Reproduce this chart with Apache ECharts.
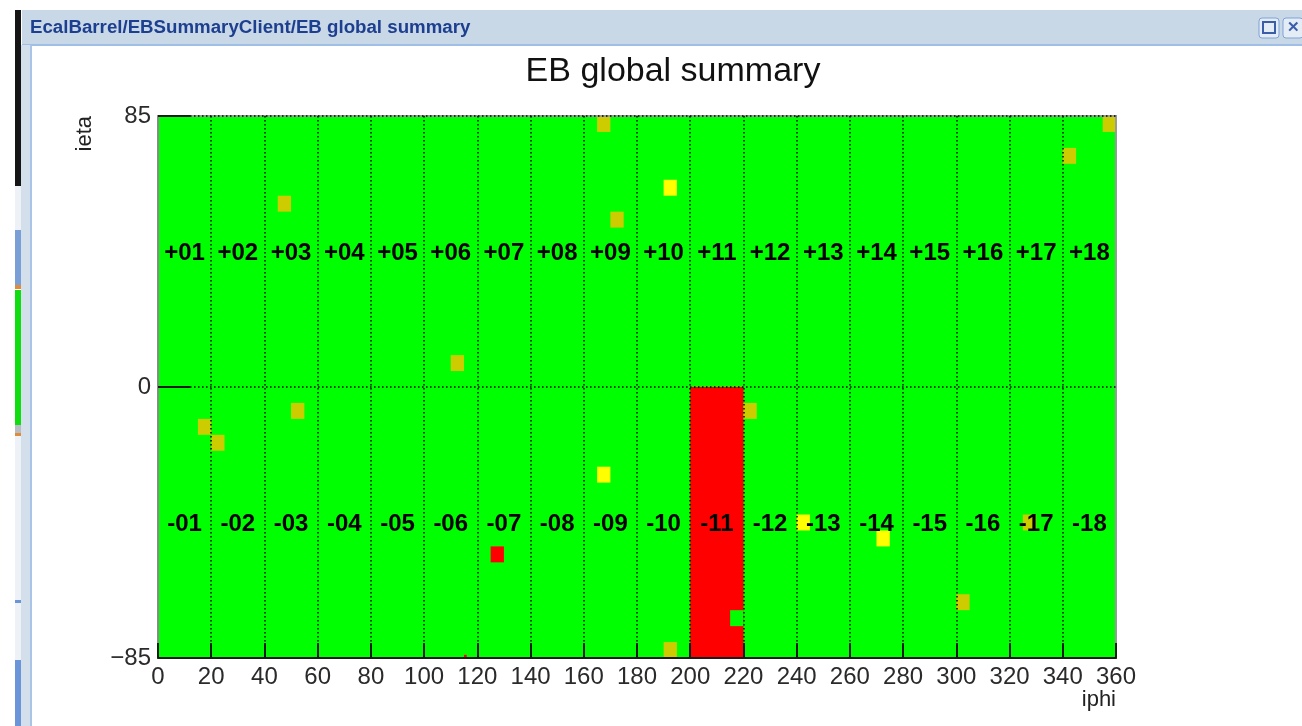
<!DOCTYPE html>
<html>
<head>
<meta charset="utf-8">
<title>EB global summary</title>
<script src="https://cdn.jsdelivr.net/npm/echarts@6/dist/echarts.min.js"></script>
<style>
  html, body { margin: 0; padding: 0; background: #ffffff; }
  #chart { width: 1302px; height: 726px; }
</style>
</head>
<body>
<div id="chart"></div>
<script>
// ---- Axis ranges and tick values -------------------------------------------
const iphiTicks = [0, 20, 40, 60, 80, 100, 120, 140, 160, 180, 200, 220, 240, 260, 280, 300, 320, 340, 360];
const ietaTicks = [-85, 0, 85];

// ---- Supermodule labels (EB+ on top half, EB- on bottom half) -------------
const smLabelsPlus  = ['+01','+02','+03','+04','+05','+06','+07','+08','+09','+10','+11','+12','+13','+14','+15','+16','+17','+18'];
const smLabelsMinus = ['-01','-02','-03','-04','-05','-06','-07','-08','-09','-10','-11','-12','-13','-14','-15','-16','-17','-18'];
const smLabelEta = [42.5, -42.5];

// ---- Channel status (trigger towers are 5 x 5 crystals) --------------------
// each entry: [iphi start, ieta start] of a tower
const maskedTowers = [
  [165, 80], [170, 50], [45, 55], [355, 80], [340, 70], [110, 5],
  [15, -15], [20, -20], [50, -10], [220, -10], [190, -85], [300, -70], [325, -45]
];
const warningTowers = [
  [190, 60], [165, -30], [240, -45], [270, -50]
];
const errorTowers = [
  [125, -55]
];
// larger / smaller regions: [iphi lo, iphi hi, ieta lo, ieta hi]
const errorRegions = [
  [200, 220, -85, 0],   // whole supermodule EB-11
  [115, 116, -85, -84]  // single crystal
];
const goodRegions = [
  [0, 360, -85, 85],    // full barrel
  [215, 220, -75, -70]  // recovered tower inside EB-11
];

const STATUS_COLORS = ['#00ff00', '#ff0000', '#ffff00', '#cccc00']; // good, error, warning, masked
const TOWER = 5;

// ---- Build cell list: [iphiLo, iphiHi, ietaLo, ietaHi, status] ------------
const cells = [];
cells.push([...goodRegions[0], 0]);
errorRegions.forEach(r => cells.push([...r, 1]));
cells.push([...goodRegions[1], 0]);
errorTowers.forEach(t => cells.push([t[0], t[0] + TOWER, t[1], t[1] + TOWER, 1]));
warningTowers.forEach(t => cells.push([t[0], t[0] + TOWER, t[1], t[1] + TOWER, 2]));
maskedTowers.forEach(t => cells.push([t[0], t[0] + TOWER, t[1], t[1] + TOWER, 3]));

const labelData = [];
smLabelsPlus.forEach((s, i) => labelData.push([i * 20 + 10, smLabelEta[0], s]));
smLabelsMinus.forEach((s, i) => labelData.push([i * 20 + 10, smLabelEta[1], s]));

const FONT = '"Liberation Sans", Arial, Helvetica, sans-serif';

const chart = echarts.init(document.getElementById('chart'), null, { renderer: 'canvas' });

chart.setOption({
  animation: false,
  backgroundColor: '#ffffff',
  title: {
    text: 'EB global summary',
    left: 668,
    top: 50,
    textAlign: 'center',
    textStyle: { fontFamily: FONT, fontSize: 34, fontWeight: 'normal', color: '#111111' }
  },
  grid: {
    left: 158, top: 116, right: 186, bottom: 68,
    show: true, z: 4,
    backgroundColor: 'rgba(0,0,0,0)',
    borderColor: '#9a9a9a', borderWidth: 2
  },
  xAxis: {
    type: 'value',
    min: iphiTicks[0], max: iphiTicks[iphiTicks.length - 1], interval: 20,
    z: 5,
    name: 'iphi',
    nameLocation: 'end',
    nameGap: 0,
    nameTextStyle: { fontFamily: FONT, fontSize: 22, color: '#222222', align: 'right', verticalAlign: 'top', padding: [31, 0, 0, 0] },
    axisLine: { show: true, onZero: false, lineStyle: { color: '#1a1a1a', width: 2 } },
    axisTick: { show: true, inside: true, length: 15, lineStyle: { color: '#1a1a1a', width: 2 } },
    axisLabel: { fontFamily: FONT, fontSize: 24, color: '#2a2a2a', margin: 7 },
    splitLine: { show: true, showMinLine: false, showMaxLine: false, lineStyle: { color: '#000000', width: 1.5, type: [1.5, 2.5] } }
  },
  yAxis: {
    type: 'value',
    min: ietaTicks[0], max: ietaTicks[2], interval: 85,
    z: 5,
    name: 'ieta',
    nameLocation: 'end',
    nameGap: 0,
    nameRotate: 90,
    nameTextStyle: { fontFamily: FONT, fontSize: 22, color: '#222222', align: 'right', verticalAlign: 'bottom', padding: [0, 0, 62, 0] },
    axisLine: { show: true, onZero: false, lineStyle: { color: '#8a8a8a', width: 2 } },
    axisTick: { show: true, inside: true, length: 32, lineStyle: { color: '#1a1a1a', width: 2 } },
    axisLabel: {
      fontFamily: FONT, fontSize: 24, color: '#2a2a2a', margin: 7,
      formatter: v => (v < 0 ? '\u2212' + Math.abs(v) : String(v))
    },
    splitLine: { show: true, showMinLine: false, showMaxLine: true, lineStyle: { color: '#000000', width: 1.5, type: [1.5, 2.5] } }
  },
  series: [
    {
      type: 'custom',
      name: 'status',
      z: 1,
      encode: { x: [0, 1], y: [2, 3] },
      data: cells,
      renderItem: function (params, api) {
        const p0 = api.coord([api.value(0), api.value(3)]);
        const p1 = api.coord([api.value(1), api.value(2)]);
        return {
          type: 'rect',
          shape: { x: p0[0], y: p0[1], width: p1[0] - p0[0], height: p1[1] - p0[1] },
          style: { fill: STATUS_COLORS[api.value(4)] }
        };
      }
    },
    {
      type: 'custom',
      name: 'supermodules',
      z: 6,
      encode: { x: 0, y: 1 },
      data: labelData,
      renderItem: function (params, api) {
        const p = api.coord([api.value(0), api.value(1)]);
        return {
          type: 'text',
          x: p[0], y: p[1] + 2,
          style: {
            text: labelData[params.dataIndex][2],
            fill: '#000000',
            font: 'bold 24px ' + FONT,
            align: 'center',
            verticalAlign: 'middle'
          }
        };
      }
    }
  ],
  graphic: [
    // window header bar
    { type: 'rect', z: 0, shape: { x: 22, y: 10, width: 1280, height: 35 }, style: { fill: '#c9d8e7' } },
    { type: 'rect', z: 0, shape: { x: 22, y: 44, width: 1280, height: 2 }, style: { fill: '#9fbfe6' } },
    { type: 'text', z: 1, x: 30, y: 28, style: { text: 'EcalBarrel/EBSummaryClient/EB global summary', font: 'bold 18.7px ' + FONT, fill: '#1d3f8f', verticalAlign: 'middle' } },
    // header buttons
    { type: 'rect', z: 1, shape: { x: 1259, y: 18, width: 20, height: 20, r: 3 }, style: { fill: '#e4ecf6', stroke: '#7fa3d6', lineWidth: 1 } },
    { type: 'rect', z: 2, shape: { x: 1263, y: 22, width: 12, height: 11 }, style: { fill: 'none', stroke: '#3a5fa8', lineWidth: 2 } },
    { type: 'rect', z: 1, shape: { x: 1283, y: 18, width: 20, height: 20, r: 3 }, style: { fill: '#e4ecf6', stroke: '#7fa3d6', lineWidth: 1 } },
    { type: 'text', z: 2, x: 1287, y: 28, style: { text: '\u2715', font: 'bold 15px ' + FONT, fill: '#3a5fa8', verticalAlign: 'middle' } },
    // window left frame
    { type: 'rect', z: 0, shape: { x: 21, y: 45, width: 10, height: 681 }, style: { fill: '#d3dfeb' } },
    { type: 'rect', z: 0, shape: { x: 30, y: 45, width: 2, height: 681 }, style: { fill: '#a9c4e6' } },
    // neighbouring application edge
    { type: 'rect', z: 0, shape: { x: 15, y: 10, width: 6, height: 176 }, style: { fill: '#151515' } },
    { type: 'rect', z: 0, shape: { x: 15, y: 186, width: 6, height: 44 }, style: { fill: '#eef1f6' } },
    { type: 'rect', z: 0, shape: { x: 15, y: 230, width: 6, height: 55 }, style: { fill: '#7a9fd6' } },
    { type: 'rect', z: 0, shape: { x: 15, y: 285, width: 6, height: 4 }, style: { fill: '#e08a3a' } },
    { type: 'rect', z: 0, shape: { x: 15, y: 290, width: 6, height: 135 }, style: { fill: '#10dd10' } },
    { type: 'rect', z: 0, shape: { x: 15, y: 425, width: 6, height: 8 }, style: { fill: '#b8bcc4' } },
    { type: 'rect', z: 0, shape: { x: 15, y: 433, width: 6, height: 3 }, style: { fill: '#e08a3a' } },
    { type: 'rect', z: 0, shape: { x: 15, y: 436, width: 6, height: 164 }, style: { fill: '#eef1f6' } },
    { type: 'rect', z: 0, shape: { x: 15, y: 600, width: 6, height: 3 }, style: { fill: '#6a95d8' } },
    { type: 'rect', z: 0, shape: { x: 15, y: 603, width: 6, height: 57 }, style: { fill: '#eef1f6' } },
    { type: 'rect', z: 0, shape: { x: 15, y: 660, width: 6, height: 66 }, style: { fill: '#6a95d8' } }
  ]
});
</script>
</body>
</html>
